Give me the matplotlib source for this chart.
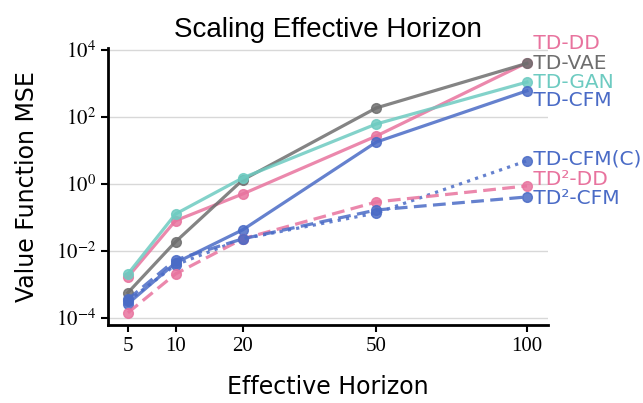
import numpy as np
import matplotlib
matplotlib.use("Agg")
import matplotlib.pyplot as plt

# effective horizons
horizons = [5, 10, 20, 50, 100]

# log10 of value function MSE
td_dd = [-2.78, -1.1, -0.3, 1.43, 3.62]
td_vae = [-3.25, -1.73, 0.12, 2.27, 3.6]
td_gan = [-2.69, -0.9, 0.18, 1.79, 3.04]
td_cfm = [-3.58, -2.36, -1.37, 1.25, 2.78]
td_cfm_c = [-3.5, -2.42, -1.64, -0.87, 0.69]
td2_dd = [-3.85, -2.69, -1.64, -0.54, -0.06]
td2_cfm = [-3.45, -2.27, -1.64, -0.78, -0.39]

pink = "#E8739E"
gray = "#6E6E6E"
teal = "#6DCBC1"
blue = "#4A6BC6"

series = [
    ("TD-DD", td_dd, pink, "-", 4.18),
    ("TD-VAE", td_vae, gray, "-", 3.61),
    ("TD-GAN", td_gan, teal, "-", 3.04),
    ("TD-CFM", td_cfm, blue, "-", 2.48),
    ("TD-CFM(C)", td_cfm_c, blue, ":", 0.75),
    ("TD²-DD", td2_dd, pink, (0, (4, 2)), 0.12),
    ("TD²-CFM", td2_cfm, blue, (0, (4, 2)), -0.45),
]

plt.rcParams["mathtext.fontset"] = "stix"

fig = plt.figure(figsize=(6.43, 4.03), dpi=100)
ax = fig.add_axes([0.168, 0.194, 0.684, 0.687])

for name, vals, col, ls, ylab in series:
    ax.plot(horizons, 10 ** np.array(vals), color=col, linestyle=ls, lw=2.3,
            marker="o", ms=7, alpha=0.85)
    ax.text(100, 10 ** ylab, " " + name, color=col, fontsize=14.5,
            family="DejaVu Sans", va="center", ha="left")

ax.set_xscale("function", functions=(np.sqrt, np.square))
ax.set_yscale("log")
ax.set_xlim(3.42, 108.3)
ax.set_ylim(10 ** -4.21, 10 ** 4.06)
ax.set_xticks(horizons)
ax.set_xticklabels([str(h) for h in horizons])
ax.set_yticks([1e-4, 1e-2, 1, 1e2, 1e4])
ax.set_yticklabels([r"$10^{-4}$", r"$10^{-2}$", r"$10^{0}$", r"$10^{2}$", r"$10^{4}$"])
ax.minorticks_off()
for lab in ax.get_xticklabels() + ax.get_yticklabels():
    lab.set_family("Liberation Serif")
    lab.set_fontsize(15)
ax.tick_params(width=1.5, length=5)
ax.grid(axis="y", color="#d8d8d8", lw=1)
ax.set_axisbelow(True)
for s in ["top", "right"]:
    ax.spines[s].set_visible(False)
for s in ["left", "bottom"]:
    ax.spines[s].set_linewidth(2)

ax.set_xlabel("Effective Horizon", fontsize=17, labelpad=14)
ax.set_ylabel("Value Function MSE", fontsize=17, labelpad=12)
ax.set_title("Scaling Effective Horizon", fontsize=20, family="Liberation Sans", pad=8)

plt.savefig("out.png", dpi=100)
